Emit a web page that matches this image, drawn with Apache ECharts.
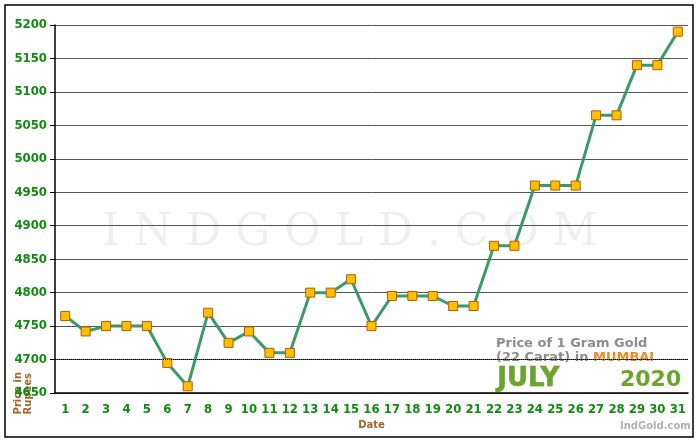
<!DOCTYPE html><html><head><meta charset="utf-8">
<script src="https://cdn.jsdelivr.net/npm/echarts@6/dist/echarts.min.js"></script>
<style>html,body{margin:0;padding:0;background:#fff}#c{width:700px;height:440px}</style></head><body>
<div id="c"></div>
<script>
const dates = Array.from({length:31},(_,i)=>String(i+1));
const prices = [4765,4742,4750,4750,4750,4695,4660,4770,4725,4742,4710,4710,4800,4800,4820,4750,4795,4795,4795,4780,4780,4870,4870,4960,4960,4960,5065,5065,5140,5140,5190];
const chart = echarts.init(document.getElementById('c'));
chart.setOption({
  animation:false,
  backgroundColor:'#fff',
  graphic:[
    {type:'rect',shape:{x:5,y:5,width:688,height:432},style:{fill:'none',stroke:'#000',lineWidth:1.5},z:-1},
    {type:'text',left:'center',top:212,style:{text:'I N D G O L D . C O M',font:'44px "DejaVu Serif"',fill:'#efefef'},z:-1},
    {type:'text',left:496,top:337,style:{text:'Price of 1 Gram Gold',font:'bold 13px "DejaVu Sans"',fill:'#8c8c8c'}},
    {type:'text',left:496,top:351,style:{rich:{a:{font:'bold 13px "DejaVu Sans"',fill:'#8c8c8c'},b:{font:'bold 13px "DejaVu Sans"',fill:'#f08a24'}},text:'{a|(22 Carat) in }{b|MUMBAI}'}},
    {type:'text',left:497,top:366,style:{text:'JULY',font:'bold 26px "DejaVu Sans"',fill:'#6aa62c',stroke:'#4a7a1c',lineWidth:0.5}},
    {type:'text',left:620,top:369,style:{text:'2020',font:'bold 22px "DejaVu Sans"',fill:'#6aa62c'}},
    {type:'text',left:620,top:421,style:{text:'IndGold.com',font:'bold 10px "DejaVu Sans"',fill:'#b0b0b0'}},
    {type:'text',left:13,top:372,rotation:Math.PI/2,style:{text:'Price in\nRupees',font:'bold 10px "DejaVu Sans"',fill:'#a0642a',align:'center',verticalAlign:'middle'}}
  ],
  grid:{left:55,right:12,top:25,bottom:47},
  xAxis:{type:'category',data:dates,boundaryGap:true,name:'Date',nameLocation:'middle',nameGap:22,
    nameTextStyle:{color:'#a0642a',fontWeight:'bold',fontSize:10,fontFamily:'DejaVu Sans'},
    axisLine:{lineStyle:{color:'#000',width:1.5}},axisTick:{lineStyle:{color:'#000'},length:5},
    axisLabel:{color:'#118a11',fontWeight:'bold',fontSize:13,fontFamily:'DejaVu Sans Condensed',margin:10,interval:0}},
  yAxis:{type:'value',min:4650,max:5200,interval:50,
    axisLine:{show:true,lineStyle:{color:'#000',width:1.5}},axisTick:{show:true,lineStyle:{color:'#000'}},
    axisLabel:{color:'#118a11',fontWeight:'bold',fontSize:13,fontFamily:'DejaVu Sans Condensed',formatter:v=>String(v)},
    splitLine:{lineStyle:{color:'#555',width:1}}},
  series:[{type:'line',data:prices,symbol:'rect',symbolSize:9,
    lineStyle:{color:'#3a9a6a',width:3},
    itemStyle:{color:'#ffc000',borderColor:'#b85a00',borderWidth:1},
    markLine:{silent:true,symbol:'none',label:{show:false},lineStyle:{color:'#000',type:'dotted',width:1},data:[{yAxis:4700}]}}]
});
</script></body></html>
